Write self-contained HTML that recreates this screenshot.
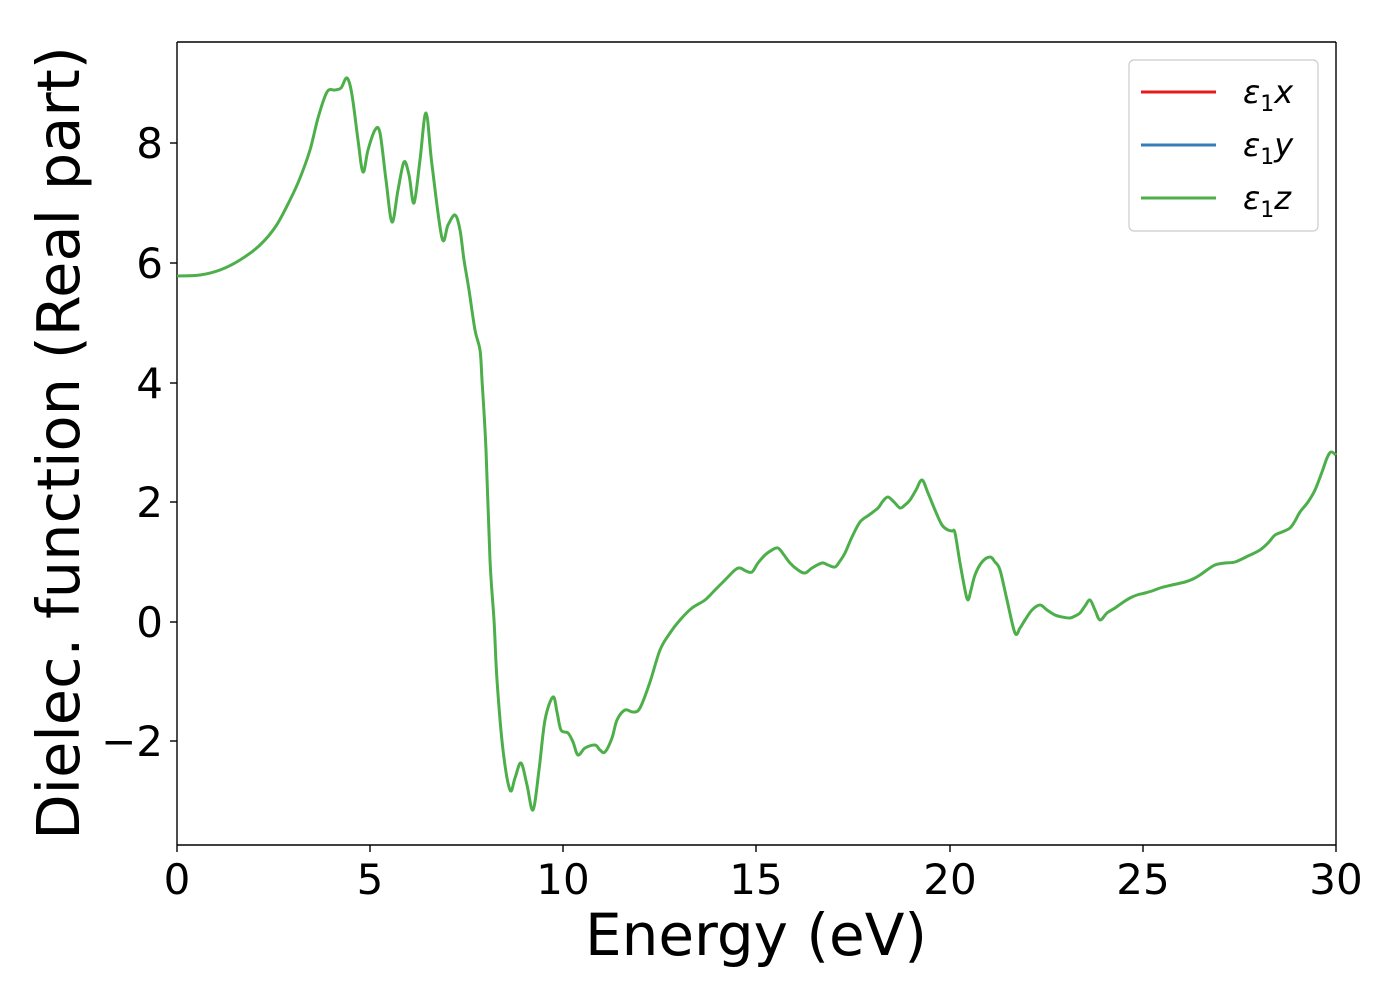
<!DOCTYPE html>
<html><head><meta charset="utf-8"><style>
html,body{margin:0;padding:0;background:#fff;}
svg{display:block;font-family:"DejaVu Sans","Liberation Sans",sans-serif;}
</style></head><body>
<svg width="1400" height="1000" viewBox="0 0 1400 1000" xmlns="http://www.w3.org/2000/svg">
<rect width="1400" height="1000" fill="#fff"/>
<g stroke="#000" stroke-width="1.4">
<line x1="177" y1="42" x2="177" y2="845"/>
<line x1="1336" y1="42" x2="1336" y2="845"/>
<line x1="177" y1="42" x2="1336" y2="42"/>
<line x1="177" y1="845" x2="1336" y2="845"/>
<line x1="177" y1="845" x2="177" y2="852"/>
<line x1="370" y1="845" x2="370" y2="852"/>
<line x1="563" y1="845" x2="563" y2="852"/>
<line x1="756" y1="845" x2="756" y2="852"/>
<line x1="950" y1="845" x2="950" y2="852"/>
<line x1="1143" y1="845" x2="1143" y2="852"/>
<line x1="1336" y1="845" x2="1336" y2="852"/>
<line x1="170" y1="143" x2="177" y2="143"/>
<line x1="170" y1="263" x2="177" y2="263"/>
<line x1="170" y1="383" x2="177" y2="383"/>
<line x1="170" y1="502" x2="177" y2="502"/>
<line x1="170" y1="622" x2="177" y2="622"/>
<line x1="170" y1="741" x2="177" y2="741"/>
</g>
<g font-size="42" fill="#000" text-anchor="middle">
<text x="177" y="894">0</text>
<text x="370" y="894">5</text>
<text x="563" y="894">10</text>
<text x="756" y="894">15</text>
<text x="950" y="894">20</text>
<text x="1143" y="894">25</text>
<text x="1336" y="894">30</text>
</g>
<g font-size="42" fill="#000" text-anchor="end">
<text x="163" y="158">8</text>
<text x="163" y="278">6</text>
<text x="163" y="398">4</text>
<text x="163" y="517">2</text>
<text x="163" y="637">0</text>
<text x="163" y="756">−2</text>
</g>
<text x="756" y="955" font-size="58" text-anchor="middle">Energy (eV)</text>
<text transform="translate(79,443) rotate(-90)" font-size="59" text-anchor="middle">Dielec. function (Real part)</text>
<path id="curve" fill="none" stroke="#4daf4a" stroke-width="3" stroke-linejoin="round" d=""/>
<rect x="1129" y="60" width="189" height="171" rx="5" fill="#fff" stroke="#ccc" stroke-width="1.2"/>
<line x1="1141" y1="92" x2="1216" y2="92" stroke="#e41a1c" stroke-width="3"/>
<line x1="1141" y1="145" x2="1216" y2="145" stroke="#377eb8" stroke-width="3"/>
<line x1="1141" y1="198" x2="1216" y2="198" stroke="#4daf4a" stroke-width="3"/>
<g font-size="32" fill="#000">
<text x="1243" y="103"><tspan font-style="italic">ε</tspan><tspan font-size="22" dy="8">1</tspan><tspan font-style="italic" dy="-8">x</tspan></text>
<text x="1243" y="156"><tspan font-style="italic">ε</tspan><tspan font-size="22" dy="8">1</tspan><tspan font-style="italic" dy="-8">y</tspan></text>
<text x="1243" y="209"><tspan font-style="italic">ε</tspan><tspan font-size="22" dy="8">1</tspan><tspan font-style="italic" dy="-8">z</tspan></text>
</g>
</svg>
<script>
var s="177,276 200,275 220,270 240,260 260,245 276,226 290,200 300,178 310,150 318,118 327,92 335,90 341,88 347,78 352,95 358,140 363,172 368,150 375,130 380,133 386,180 392,222 398,190 404,162 409,175 414,203 420,160 426,113 432,165 442,238 448,225 455,215 460,230 464,260 469,290 475,330 480,350 482,380 486,450 490,560 494,620 497,680 503,750 510,790 515,778 521,763 527,785 533,810 539,770 545,720 553,697 557,712 561,730 568,733 573,742 578,755 585,748 595,745 600,750 605,752 612,738 617,720 625,710 633,712 640,708 650,682 660,650 670,633 680,620 692,608 705,600 715,590 725,580 735,570 740,568 746,571 752,572 758,563 765,555 772,550 778,548 784,555 790,563 798,570 805,573 812,568 822,563 828,565 835,567 840,561 845,553 852,537 860,522 869,515 878,508 883,501 888,497 894,502 900,508 905,505 910,500 916,490 922,480 928,493 935,510 942,525 948,530 952,531 955,533 960,563 965,590 968,600 971,590 975,575 982,562 990,557 995,562 1000,570 1007,600 1015,633 1020,628 1025,620 1032,610 1040,605 1047,610 1055,615 1062,617 1070,618 1075,616 1080,613 1085,606 1090,600 1095,610 1100,620 1107,613 1115,608 1122,603 1130,598 1137,595 1145,593 1152,591 1160,588 1172,585 1185,582 1193,579 1200,575 1207,570 1215,565 1225,563 1235,562 1248,556 1260,550 1268,543 1275,535 1282,532 1290,528 1295,521 1300,512 1308,502 1315,490 1322,472 1327,458 1331,452 1336,455";
var p=s.split(" ").map(function(t){return t.split(",").map(Number);});
var d="M"+p[0][0]+","+p[0][1];
for(var i=0;i<p.length-1;i++){
var p0=p[i>0?i-1:i],p1=p[i],p2=p[i+1],p3=p[i+2<p.length?i+2:i+1];
var c1x=p1[0]+(p2[0]-p0[0])/6,c1y=p1[1]+(p2[1]-p0[1])/6;
var c2x=p2[0]-(p3[0]-p1[0])/6,c2y=p2[1]-(p3[1]-p1[1])/6;
d+=" C"+c1x.toFixed(1)+","+c1y.toFixed(1)+" "+c2x.toFixed(1)+","+c2y.toFixed(1)+" "+p2[0]+","+p2[1];
}
document.getElementById("curve").setAttribute("d",d);
</script>
</body></html>
